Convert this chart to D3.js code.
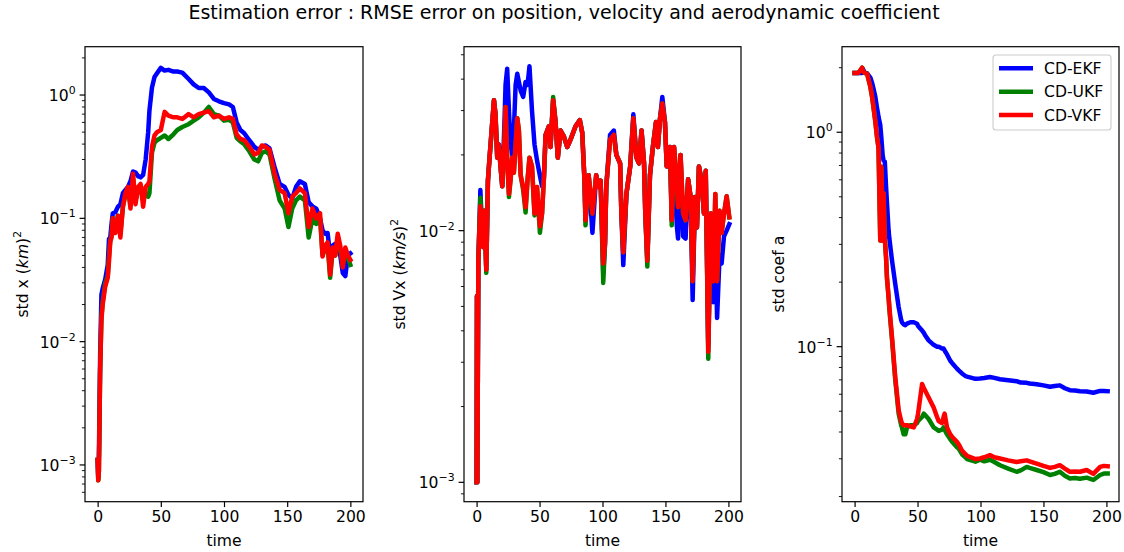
<!DOCTYPE html>
<html><head><meta charset="utf-8">
<script src="https://cdn.jsdelivr.net/npm/d3@7"></script>
<style>
body{margin:0;background:#fff}
svg{display:block}
text{font-family:"DejaVu Sans",sans-serif;fill:#000}
</style>
</head><body>
<svg id="c" width="1124" height="552"></svg>
<script>
// ---------------- DATA ----------------
const seriesNames = ["CD-EKF", "CD-UKF", "CD-VKF"];
const seriesColors = ["#0000ff", "#008000", "#ff0000"];
const titleText = "Estimation error : RMSE error on position, velocity and aerodynamic coefficient";
const xTicks = [0, 50, 100, 150, 200];

// Panel 1 : std x
const timeX = [0,0.5,1,2,3,4,6,8,9,10,11,12,14,16,18,20,22,24,26,28,30,32,34,36,38,40,41,43,45,47,50,53,56,60,63,67,72,76,80,84,88,92,96,100,104,107,110,113,116,120,124,127,130,133,136,140,144,148,151,154,157,160,164,167,170,173,176,178,180,182,184,186,188,190,192,194,196,198,200];
const ekfX = [0.0011,0.00078,0.0012,0.008,0.024,0.027,0.032,0.042,0.068,0.07,0.09,0.11,0.112,0.124,0.13,0.16,0.17,0.18,0.2,0.24,0.235,0.22,0.215,0.225,0.3,0.5,0.75,1.15,1.4,1.5,1.66,1.58,1.6,1.55,1.55,1.52,1.35,1.22,1.14,1.14,1.05,0.93,0.89,0.86,0.84,0.8,0.6,0.52,0.49,0.43,0.38,0.36,0.38,0.39,0.37,0.26,0.19,0.18,0.155,0.145,0.18,0.2,0.19,0.135,0.125,0.12,0.1,0.08,0.075,0.076,0.05,0.06,0.062,0.058,0.05,0.036,0.034,0.05,0.052];
const ukfX = [0.0011,0.00075,0.0009,0.006,0.016,0.021,0.03,0.034,0.05,0.066,0.072,0.1,0.08,0.105,0.075,0.125,0.155,0.175,0.13,0.21,0.14,0.17,0.18,0.14,0.16,0.15,0.16,0.34,0.41,0.43,0.45,0.47,0.44,0.48,0.52,0.55,0.58,0.62,0.66,0.72,0.8,0.7,0.68,0.62,0.63,0.6,0.45,0.42,0.4,0.35,0.3,0.29,0.34,0.35,0.33,0.21,0.14,0.12,0.085,0.12,0.14,0.15,0.14,0.07,0.1,0.09,0.1,0.05,0.058,0.06,0.033,0.055,0.05,0.07,0.055,0.042,0.055,0.048,0.042];
const vkfX = [0.0011,0.00075,0.0009,0.006,0.015,0.02,0.028,0.033,0.045,0.065,0.07,0.1,0.076,0.105,0.07,0.124,0.16,0.18,0.12,0.23,0.13,0.18,0.19,0.124,0.18,0.19,0.2,0.38,0.47,0.5,0.52,0.73,0.68,0.66,0.66,0.64,0.7,0.66,0.7,0.72,0.74,0.66,0.68,0.64,0.66,0.64,0.48,0.44,0.43,0.38,0.33,0.34,0.39,0.38,0.36,0.23,0.17,0.16,0.11,0.15,0.16,0.175,0.16,0.085,0.12,0.1,0.11,0.049,0.06,0.064,0.035,0.058,0.05,0.075,0.06,0.04,0.058,0.05,0.046];

// Panel 2 : std Vx
const timeV = [0,0.3,0.6,1.0,1.4,2,3,4,5.3,6.3,7.7,9,10.3,11.6,13.8,15,16.4,17.7,19,20.4,22.2,23,24.3,25.7,27,28.3,29.6,31,32.3,33.6,35,37,38.9,40.5,42,44,46,48,50.3,52,53.4,54.8,57.4,58.7,60.8,62.7,64.5,66.7,69.3,72,74.6,78.6,82,83.9,85.7,86.5,89,92,95,97,98.5,100.6,102,103,106,109,111,114,115,116.5,119,122,124.5,127,129,131,133,134,135.6,137.7,140,142.5,144,145.7,147.5,149.6,151,153.6,155,156.8,159,160,162,164,166,168,170,171.6,173.5,175,176.6,178.7,180.6,182,184,186,188,189.6,191,193,194.6,196.5,198.6,200.7];
const ekfV = [0.001,0.0055,0.001,0.0028,0.0076,0.0095,0.0145,0.011,0.0086,0.012,0.007,0.0158,0.0195,0.0237,0.033,0.029,0.0195,0.022,0.018,0.015,0.0275,0.038,0.044,0.03,0.022,0.02,0.025,0.038,0.042,0.039,0.036,0.034,0.039,0.038,0.045,0.03,0.022,0.019,0.0165,0.015,0.016,0.024,0.026,0.0215,0.033,0.027,0.0195,0.025,0.0237,0.0215,0.023,0.026,0.0275,0.0245,0.0158,0.011,0.0166,0.0098,0.0166,0.0149,0.0158,0.0068,0.0088,0.015,0.024,0.025,0.02,0.0185,0.0117,0.0073,0.014,0.018,0.029,0.0195,0.0185,0.025,0.0185,0.0117,0.0076,0.0166,0.0215,0.027,0.0215,0.028,0.034,0.027,0.018,0.0215,0.011,0.0215,0.0105,0.0093,0.02,0.0095,0.0093,0.016,0.0136,0.0053,0.0136,0.0103,0.018,0.0158,0.0117,0.0173,0.0035,0.0117,0.0052,0.0095,0.0045,0.008,0.0074,0.0095,0.01,0.0106];
const ukfV = [0.001,0.0055,0.001,0.0028,0.0076,0.0095,0.0135,0.011,0.0086,0.012,0.0068,0.0158,0.0195,0.0237,0.033,0.029,0.0195,0.022,0.018,0.015,0.023,0.031,0.0195,0.0136,0.016,0.0195,0.017,0.022,0.028,0.025,0.0166,0.0145,0.0118,0.016,0.0195,0.018,0.0115,0.0149,0.0098,0.0117,0.016,0.024,0.026,0.0215,0.034,0.027,0.0195,0.025,0.0237,0.0215,0.023,0.026,0.0275,0.0245,0.0158,0.0105,0.0166,0.0117,0.0166,0.0149,0.0158,0.0062,0.009,0.015,0.023,0.024,0.02,0.0185,0.0117,0.0082,0.014,0.018,0.028,0.0195,0.0185,0.025,0.0185,0.0117,0.0072,0.0166,0.0215,0.027,0.0215,0.028,0.032,0.027,0.018,0.0215,0.0105,0.0215,0.0158,0.0124,0.02,0.0117,0.011,0.016,0.0136,0.0063,0.0136,0.0103,0.018,0.0158,0.0117,0.0173,0.0031,0.0117,0.0063,0.014,0.0063,0.012,0.0098,0.0117,0.0137,0.0113];
const vkfV = [0.001,0.0055,0.001,0.0028,0.0076,0.0095,0.0125,0.011,0.0086,0.012,0.007,0.0158,0.0195,0.0237,0.033,0.029,0.0195,0.022,0.018,0.015,0.023,0.031,0.0195,0.014,0.016,0.0195,0.017,0.022,0.028,0.025,0.0166,0.0149,0.0124,0.016,0.0195,0.018,0.0117,0.0149,0.0104,0.0117,0.016,0.024,0.026,0.0215,0.033,0.027,0.0195,0.025,0.0237,0.0215,0.023,0.026,0.0275,0.0245,0.0158,0.011,0.0166,0.0117,0.0166,0.0149,0.0158,0.0074,0.009,0.015,0.023,0.024,0.02,0.0185,0.0117,0.0082,0.014,0.018,0.028,0.0195,0.0185,0.025,0.0185,0.0117,0.0076,0.0166,0.0215,0.027,0.0215,0.028,0.032,0.027,0.018,0.0215,0.011,0.0215,0.0158,0.0124,0.02,0.0117,0.011,0.016,0.0136,0.0063,0.0136,0.0103,0.018,0.0158,0.0117,0.0173,0.0033,0.0117,0.0063,0.014,0.0063,0.012,0.0098,0.0117,0.0137,0.0113];

// Panel 3 : std coef a
const timeA = [0,3,6,6.5,8,10,12.5,14,15,16.5,17.8,18.6,19,20.4,21.2,21.8,22.3,23,24,25,25.7,27,27.6,29.7,32.3,35,37,37.6,39,40.3,41.6,44.3,47,49.6,50.4,53.6,55,56,58.8,62.8,65.5,66.8,69.4,70.7,71.5,73.4,76,77.4,81.3,82.7,85.3,88,89.3,96,99.6,103,107.5,111,115.5,122,128.7,132,136.7,139,144.6,150,155.2,159,163,167,171,175,179,184.3,189.6,195,198,201];
const ekfA = [1.89,1.89,1.89,1.98,1.9,1.88,1.8,1.69,1.6,1.46,1.3,1.22,1.18,1.08,0.95,0.855,0.78,0.74,0.73,0.556,0.47,0.349,0.32,0.253,0.196,0.153,0.133,0.13,0.127,0.126,0.128,0.13,0.13,0.128,0.125,0.119,0.116,0.113,0.107,0.102,0.1,0.1,0.098,0.098,0.096,0.092,0.086,0.084,0.079,0.0775,0.075,0.073,0.0725,0.0708,0.0711,0.0715,0.0722,0.0715,0.0705,0.0698,0.069,0.068,0.0678,0.0673,0.0668,0.066,0.065,0.0655,0.066,0.064,0.0627,0.0625,0.062,0.0618,0.061,0.0622,0.0622,0.062];
const ukfA = [1.89,1.89,2.0,1.93,1.89,1.87,1.63,1.45,1.31,1.12,0.95,0.88,0.85,0.313,0.69,0.5,0.313,0.52,0.32,0.26,0.21,0.17,0.15,0.108,0.07,0.0487,0.043,0.042,0.039,0.039,0.042,0.043,0.043,0.044,0.045,0.047,0.0487,0.048,0.046,0.042,0.041,0.0405,0.041,0.042,0.041,0.039,0.037,0.036,0.034,0.0335,0.0315,0.0305,0.0299,0.0291,0.0297,0.0292,0.0297,0.029,0.028,0.027,0.0261,0.0265,0.0275,0.0272,0.0266,0.026,0.0252,0.0255,0.0261,0.025,0.0243,0.0244,0.0242,0.0245,0.0239,0.0252,0.0256,0.0256];
const vkfA = [1.89,1.89,2.0,1.93,1.89,1.87,1.63,1.45,1.31,1.12,0.95,0.88,0.85,0.313,0.69,0.5,0.313,0.52,0.32,0.26,0.21,0.17,0.153,0.111,0.072,0.0505,0.045,0.044,0.043,0.043,0.043,0.0425,0.042,0.046,0.0487,0.067,0.064,0.0625,0.058,0.052,0.047,0.045,0.044,0.047,0.0487,0.042,0.039,0.038,0.036,0.035,0.0328,0.0315,0.031,0.0299,0.0301,0.0305,0.0312,0.0305,0.0301,0.0295,0.029,0.0292,0.0295,0.0292,0.0285,0.0278,0.0272,0.0275,0.028,0.027,0.0261,0.0262,0.0261,0.0266,0.0255,0.0275,0.0278,0.0277];

// ---------------- DRAW ----------------
const svg = d3.select("#c");
const FS = 15.6;
const SUP = 10.9;
const MAJ = 5.4, MIN = 3.1, PAD = 4;

const panels = [
  {x0: 85, x1: 363, y0: 46.7, y1: 501.7, ydom: [Math.pow(10,-3.298), Math.pow(10,0.392)],
   t: timeX, ys: [ekfX, ukfX, vkfX], ylab: "x", labX: 22},
  {x0: 464, x1: 741, y0: 46.7, y1: 501.7, ydom: [Math.pow(10,-3.077), Math.pow(10,-1.269)],
   t: timeV, ys: [ekfV, ukfV, vkfV], ylab: "v", labX: 399},
  {x0: 842, x1: 1119, y0: 46.7, y1: 501.7, ydom: [Math.pow(10,-1.723), Math.pow(10,0.399)],
   t: timeA, ys: [ekfA, ukfA, vkfA], ylab: "a", labX: 778, legend: true}
];

svg.append("text").attr("x", 564).attr("y", 19).attr("text-anchor", "middle")
  .style("font-size", "19px").text(titleText);

panels.forEach((p, pi) => {
  const x = d3.scaleLinear().domain([-10, 210]).range([p.x0, p.x1]);
  const y = d3.scaleLog().domain(p.ydom).range([p.y1, p.y0]);
  const g = svg.append("g");

  const cid = "clip" + pi;
  svg.append("clipPath").attr("id", cid).append("rect")
    .attr("x", p.x0).attr("y", p.y0).attr("width", p.x1 - p.x0).attr("height", p.y1 - p.y0);

  // lines
  const line = d3.line().x((d, i) => x(p.t[i])).y(d => y(d)).curve(d3.curveLinear);
  const lg = g.append("g").attr("clip-path", `url(#${cid})`);
  p.ys.forEach((vals, si) => {
    lg.append("path").datum(vals).attr("d", line)
      .attr("fill", "none").attr("stroke", seriesColors[si])
      .attr("stroke-width", 4.5).attr("stroke-linejoin", "round").attr("stroke-linecap", "square");
  });

  // frame
  g.append("rect").attr("x", p.x0).attr("y", p.y0).attr("width", p.x1 - p.x0).attr("height", p.y1 - p.y0)
    .attr("fill", "none").attr("stroke", "#000").attr("stroke-width", 1.2);

  // x axis ticks
  const xa = d3.axisBottom(x).tickValues(xTicks).tickSize(MAJ).tickPadding(PAD).tickFormat(d3.format("d"));
  const xg = g.append("g").attr("transform", `translate(0,${p.y1})`).call(xa);
  xg.select(".domain").remove();
  xg.selectAll("line").attr("stroke-width", 1.2);
  xg.selectAll("text").style("font-size", FS + "px").style("font-family", "DejaVu Sans");

  // y log ticks (major & minor)
  const lo = Math.floor(Math.log10(p.ydom[0])), hi = Math.ceil(Math.log10(p.ydom[1]));
  const majors = [], minors = [];
  for (let k = lo; k <= hi; k++) {
    for (let m = 1; m <= 9; m++) {
      const v = m * Math.pow(10, k);
      if (v < p.ydom[0] * 0.9999 || v > p.ydom[1] * 1.0001) continue;
      if (m === 1) majors.push(k); else minors.push(v);
    }
  }
  minors.forEach(v => {
    g.append("line").attr("x1", p.x0 - MIN).attr("x2", p.x0)
      .attr("y1", y(v)).attr("y2", y(v)).attr("stroke", "#000").attr("stroke-width", 0.9);
  });
  majors.forEach(k => {
    const yy = y(Math.pow(10, k));
    g.append("line").attr("x1", p.x0 - MAJ).attr("x2", p.x0)
      .attr("y1", yy).attr("y2", yy).attr("stroke", "#000").attr("stroke-width", 1.2);
    const t = g.append("text").attr("x", p.x0 - MAJ - PAD).attr("y", yy + 6).attr("text-anchor", "end")
      .style("font-size", FS + "px");
    t.append("tspan").text("10");
    t.append("tspan").attr("dy", -7).style("font-size", SUP + "px")
      .text(k < 0 ? "\u2212" + (-k) : String(k));
  });

  // x label
  g.append("text").attr("x", (p.x0 + p.x1) / 2).attr("y", 546).attr("text-anchor", "middle")
    .style("font-size", FS + "px").text("time");

  // y label
  const cy = (p.y0 + p.y1) / 2;
  const yl = g.append("text").attr("transform", `translate(${p.labX + 5.5},${cy}) rotate(-90)`)
    .attr("text-anchor", "middle").style("font-size", FS + "px");
  if (p.ylab === "x") {
    yl.append("tspan").text("std x (");
    yl.append("tspan").style("font-style", "italic").text("km");
    yl.append("tspan").text(")");
    yl.append("tspan").attr("dy", -7).style("font-size", SUP + "px").text("2");
  } else if (p.ylab === "v") {
    yl.append("tspan").text("std Vx (");
    yl.append("tspan").style("font-style", "italic").text("km/s");
    yl.append("tspan").text(")");
    yl.append("tspan").attr("dy", -7).style("font-size", SUP + "px").text("2");
  } else {
    yl.text("std coef a");
  }

  // legend
  if (p.legend) {
    const lgd = g.append("g");
    lgd.append("rect").attr("x", 993).attr("y", 55).attr("width", 118).attr("height", 75)
      .attr("rx", 3).attr("fill", "#fff").attr("fill-opacity", 0.8)
      .attr("stroke", "#cccccc").attr("stroke-width", 1.1);
    seriesNames.forEach((name, i) => {
      const ly = 68.3 + i * 23.4;
      lgd.append("line").attr("x1", 999).attr("x2", 1033).attr("y1", ly).attr("y2", ly)
        .attr("stroke", seriesColors[i]).attr("stroke-width", 4.5);
      lgd.append("text").attr("x", 1044).attr("y", ly + 5.5).style("font-size", FS + "px").text(name);
    });
  }
});
</script>
</body></html>
